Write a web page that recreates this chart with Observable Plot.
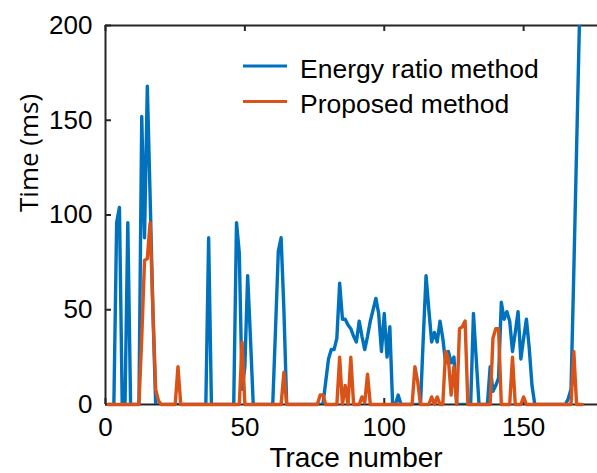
<!DOCTYPE html>
<html>
<head>
<meta charset="utf-8">
<script src="https://cdn.jsdelivr.net/npm/d3@7"></script>
<script src="https://cdn.jsdelivr.net/npm/@observablehq/plot@0.6"></script>
<style>
  html, body { margin: 0; padding: 0; background: #fff; }
  #chart { width: 597px; height: 473px; overflow: hidden; }
</style>
</head>
<body>
<div id="chart"></div>
<script>
// Trace numbers run 1..171 (index + 1)
const energyRatio = [
  0, 0, 0, 96, 104, 0, 0, 96, 0, 0,
  0, 0, 152, 88, 168, 110, 50, 0, 0, 0,
  0, 0, 0, 0, 0, 0, 0, 0, 0, 0,
  0, 0, 0, 0, 0, 0, 88, 0, 0, 0,
  0, 0, 0, 0, 0, 0, 96, 80, 8, 20,
  68, 35, 0, 0, 0, 0, 0, 0, 0, 0,
  40, 81, 88, 50, 0, 0, 0, 0, 0, 0,
  0, 0, 0, 0, 0, 0, 0, 0, 12, 24,
  29, 29, 35, 64, 45, 45, 42, 40, 36, 33,
  44, 36, 29, 36, 44, 50, 56, 48, 28, 48,
  25, 41, 0, 0, 5, 0, 0, 0, 0, 0,
  0, 0, 0, 35, 68, 50, 33, 38, 33, 44,
  35, 22, 28, 22, 25, 0, 0, 0, 0, 0,
  0, 48, 24, 0, 0, 0, 0, 20, 7, 10,
  14, 54, 45, 49, 44, 28, 38, 49, 24, 35,
  45, 30, 10, 0, 0, 0, 0, 0, 0, 0,
  0, 0, 0, 0, 0, 3, 8, 70, 135, 200,
  265
];
const proposed = [
  0, 0, 0, 0, 0, 0, 0, 0, 0, 0,
  0, 0, 35, 76, 77, 96, 50, 8, 2, 0,
  0, 0, 0, 0, 0, 20, 0, 0, 0, 0,
  0, 0, 0, 0, 0, 0, 0, 0, 0, 0,
  0, 0, 0, 0, 0, 0, 0, 0, 33, 0,
  0, 0, 0, 0, 0, 0, 0, 0, 0, 0,
  0, 0, 0, 17, 0, 0, 0, 0, 0, 0,
  0, 0, 0, 0, 0, 0, 5, 5, 0, 0,
  0, 0, 0, 25, 0, 10, 0, 25, 0, 0,
  0, 4, 1, 16, 0, 0, 0, 0, 0, 0,
  0, 0, 0, 0, 0, 0, 0, 0, 0, 0,
  20, 12, 0, 0, 0, 0, 4, 0, 4, 0,
  0, 28, 24, 5, 20, 0, 40, 41, 44, 0,
  0, 0, 0, 0, 0, 0, 0, 0, 35, 40,
  40, 0, 0, 0, 0, 25, 0, 0, 0, 4,
  0, 0, 0, 0, 0, 0, 0, 0, 0, 0,
  0, 0, 0, 0, 0, 0, 0, 28, 0, 0,
  0
];
const xTicks = [0, 50, 100, 150];
const yTicks = [0, 50, 100, 150, 200];
const seriesNames = ["Energy ratio method", "Proposed method"];
const seriesColors = ["#0072BD", "#D95319"];
const xLabel = "Trace number";
const yLabel = "Time (ms)";

const blueRows = energyRatio.map((v, i) => ({trace: i + 1, time: v}));
const orangeRows = proposed.map((v, i) => ({trace: i + 1, time: v}));

const W = 597, H = 473, ML = 105, MR = 0, MT = 25, MB = 69;
const frameW = W - ML - MR, frameH = H - MT - MB;
const axisColor = "#262626";
const tickFont = "'Liberation Sans', Arial, Helvetica, sans-serif";
const labelFont = "'Open Sans', 'Noto Sans', sans-serif";

const plot = Plot.plot({
  width: W, height: H,
  marginLeft: ML, marginRight: MR, marginTop: MT, marginBottom: MB,
  x: {domain: [0, 176.5]},
  y: {domain: [0, 200]},
  style: {fontFamily: tickFont, fontSize: "26px", color: "#000", background: "#fff", overflow: "hidden"},
  marks: [
    // frame lines (bottom, top, left)
    Plot.ruleY([0, 200], {stroke: axisColor, strokeWidth: 2}),
    Plot.ruleX([0], {stroke: axisColor, strokeWidth: 2}),
    // inward ticks
    Plot.ruleX(xTicks, {stroke: axisColor, strokeWidth: 2, insetBottom: frameH - 6}),
    Plot.ruleX(xTicks, {stroke: axisColor, strokeWidth: 2, insetTop: frameH - 6}),
    Plot.ruleY(yTicks, {stroke: axisColor, strokeWidth: 2, insetRight: frameW - 6}),
    // tick labels
    Plot.axisX(xTicks, {tickSize: 0, tickPadding: 13.5, label: null, fontSize: 26, fontFamily: tickFont}),
    Plot.axisY(yTicks, {tickSize: 0, tickPadding: 13, label: null, fontSize: 26, fontFamily: tickFont}),
    // data
    Plot.line(blueRows, {x: "trace", y: "time", stroke: seriesColors[0], strokeWidth: 3.4, strokeLinejoin: "round", clip: true}),
    Plot.line(orangeRows, {x: "trace", y: "time", stroke: seriesColors[1], strokeWidth: 3.4, strokeLinejoin: "round"}),
    // y-axis title
    Plot.text([yLabel], {frameAnchor: "left", dx: -76, dy: -3, rotate: -90, fontSize: 26, fontFamily: labelFont, fill: "#000"})
  ]
});

document.getElementById("chart").appendChild(plot);

const svg = d3.select(plot);

// x-axis title
svg.append("text").attr("x", 356).attr("y", 467).text(xLabel)
  .attr("text-anchor", "middle")
  .attr("font-family", tickFont).attr("font-size", 28).attr("fill", "#000");

// legend (inside plot area, top)
const leg = svg.append("g").attr("text-anchor", "start");
const legRows = [
  {name: seriesNames[0], color: seriesColors[0], ly: 66, ty: 78},
  {name: seriesNames[1], color: seriesColors[1], ly: 101.5, ty: 113}
];
legRows.forEach(r => {
  leg.append("line").attr("x1", 243).attr("x2", 287).attr("y1", r.ly).attr("y2", r.ly)
    .attr("stroke", r.color).attr("stroke-width", 3);
  leg.append("text").attr("x", 300).attr("y", r.ty).text(r.name)
    .attr("text-anchor", "start")
    .attr("font-family", tickFont).attr("font-size", 26.5).attr("fill", "#000");
});
</script>
</body>
</html>
